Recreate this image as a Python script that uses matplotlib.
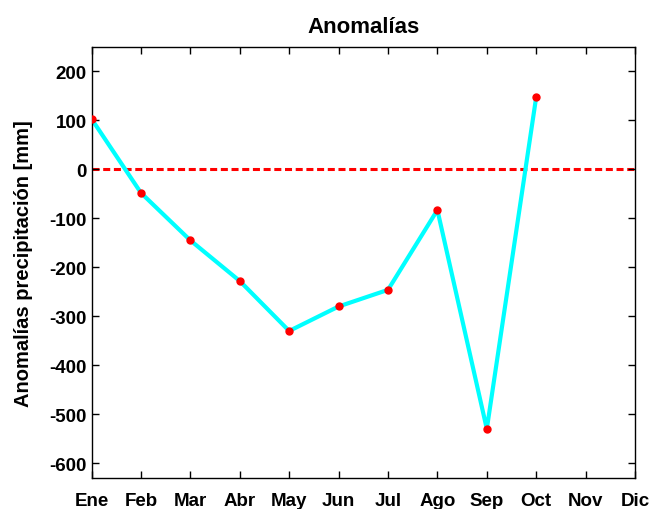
import matplotlib
matplotlib.use("Agg")
import matplotlib.pyplot as plt

months = ["Ene", "Feb", "Mar", "Abr", "May", "Jun", "Jul", "Ago", "Sep", "Oct", "Nov", "Dic"]
month_num = [1, 2, 3, 4, 5, 6, 7, 8, 9, 10]
anomalies = [103, -48, -145, -228, -330, -280, -246, -83, -530, 148]
yticks = [200, 100, 0, -100, -200, -300, -400, -500, -600]

plt.rcParams['font.family'] = ['Liberation Sans', 'DejaVu Sans']
plt.rcParams['font.weight'] = 'bold'
plt.rcParams['axes.unicode_minus'] = False

fig = plt.figure(figsize=(6.54, 5.10), dpi=100)
ax = fig.add_axes([0.140, 0.061, 0.831, 0.845])

ax.plot(month_num, anomalies, color='cyan', lw=3, zorder=2)
ax.plot(month_num, anomalies, 'o', color='red', ms=5, zorder=3)
ax.axhline(0, color='red', ls=(0, (2.3, 1.2)), lw=2.2, zorder=1)

ax.set_xlim(1, 12)
ax.set_ylim(-630, 250)
ax.set_xticks(range(1, 13))
ax.set_xticklabels(months)
ax.set_yticks(yticks)
ax.tick_params(direction='in', length=5, top=True, right=True, labelsize=13.5, width=1)
for lbl in ax.get_xticklabels() + ax.get_yticklabels():
    lbl.set_fontweight('bold')
ax.tick_params(axis='x', pad=10)
for s in ax.spines.values():
    s.set_linewidth(1)

ax.set_title("Anomalías", fontsize=16, fontweight='bold', pad=11)
ax.set_ylabel("Anomalías precipitación [mm]", fontsize=14.5, fontweight='bold', labelpad=12)

fig.savefig("out.png", dpi=100)
